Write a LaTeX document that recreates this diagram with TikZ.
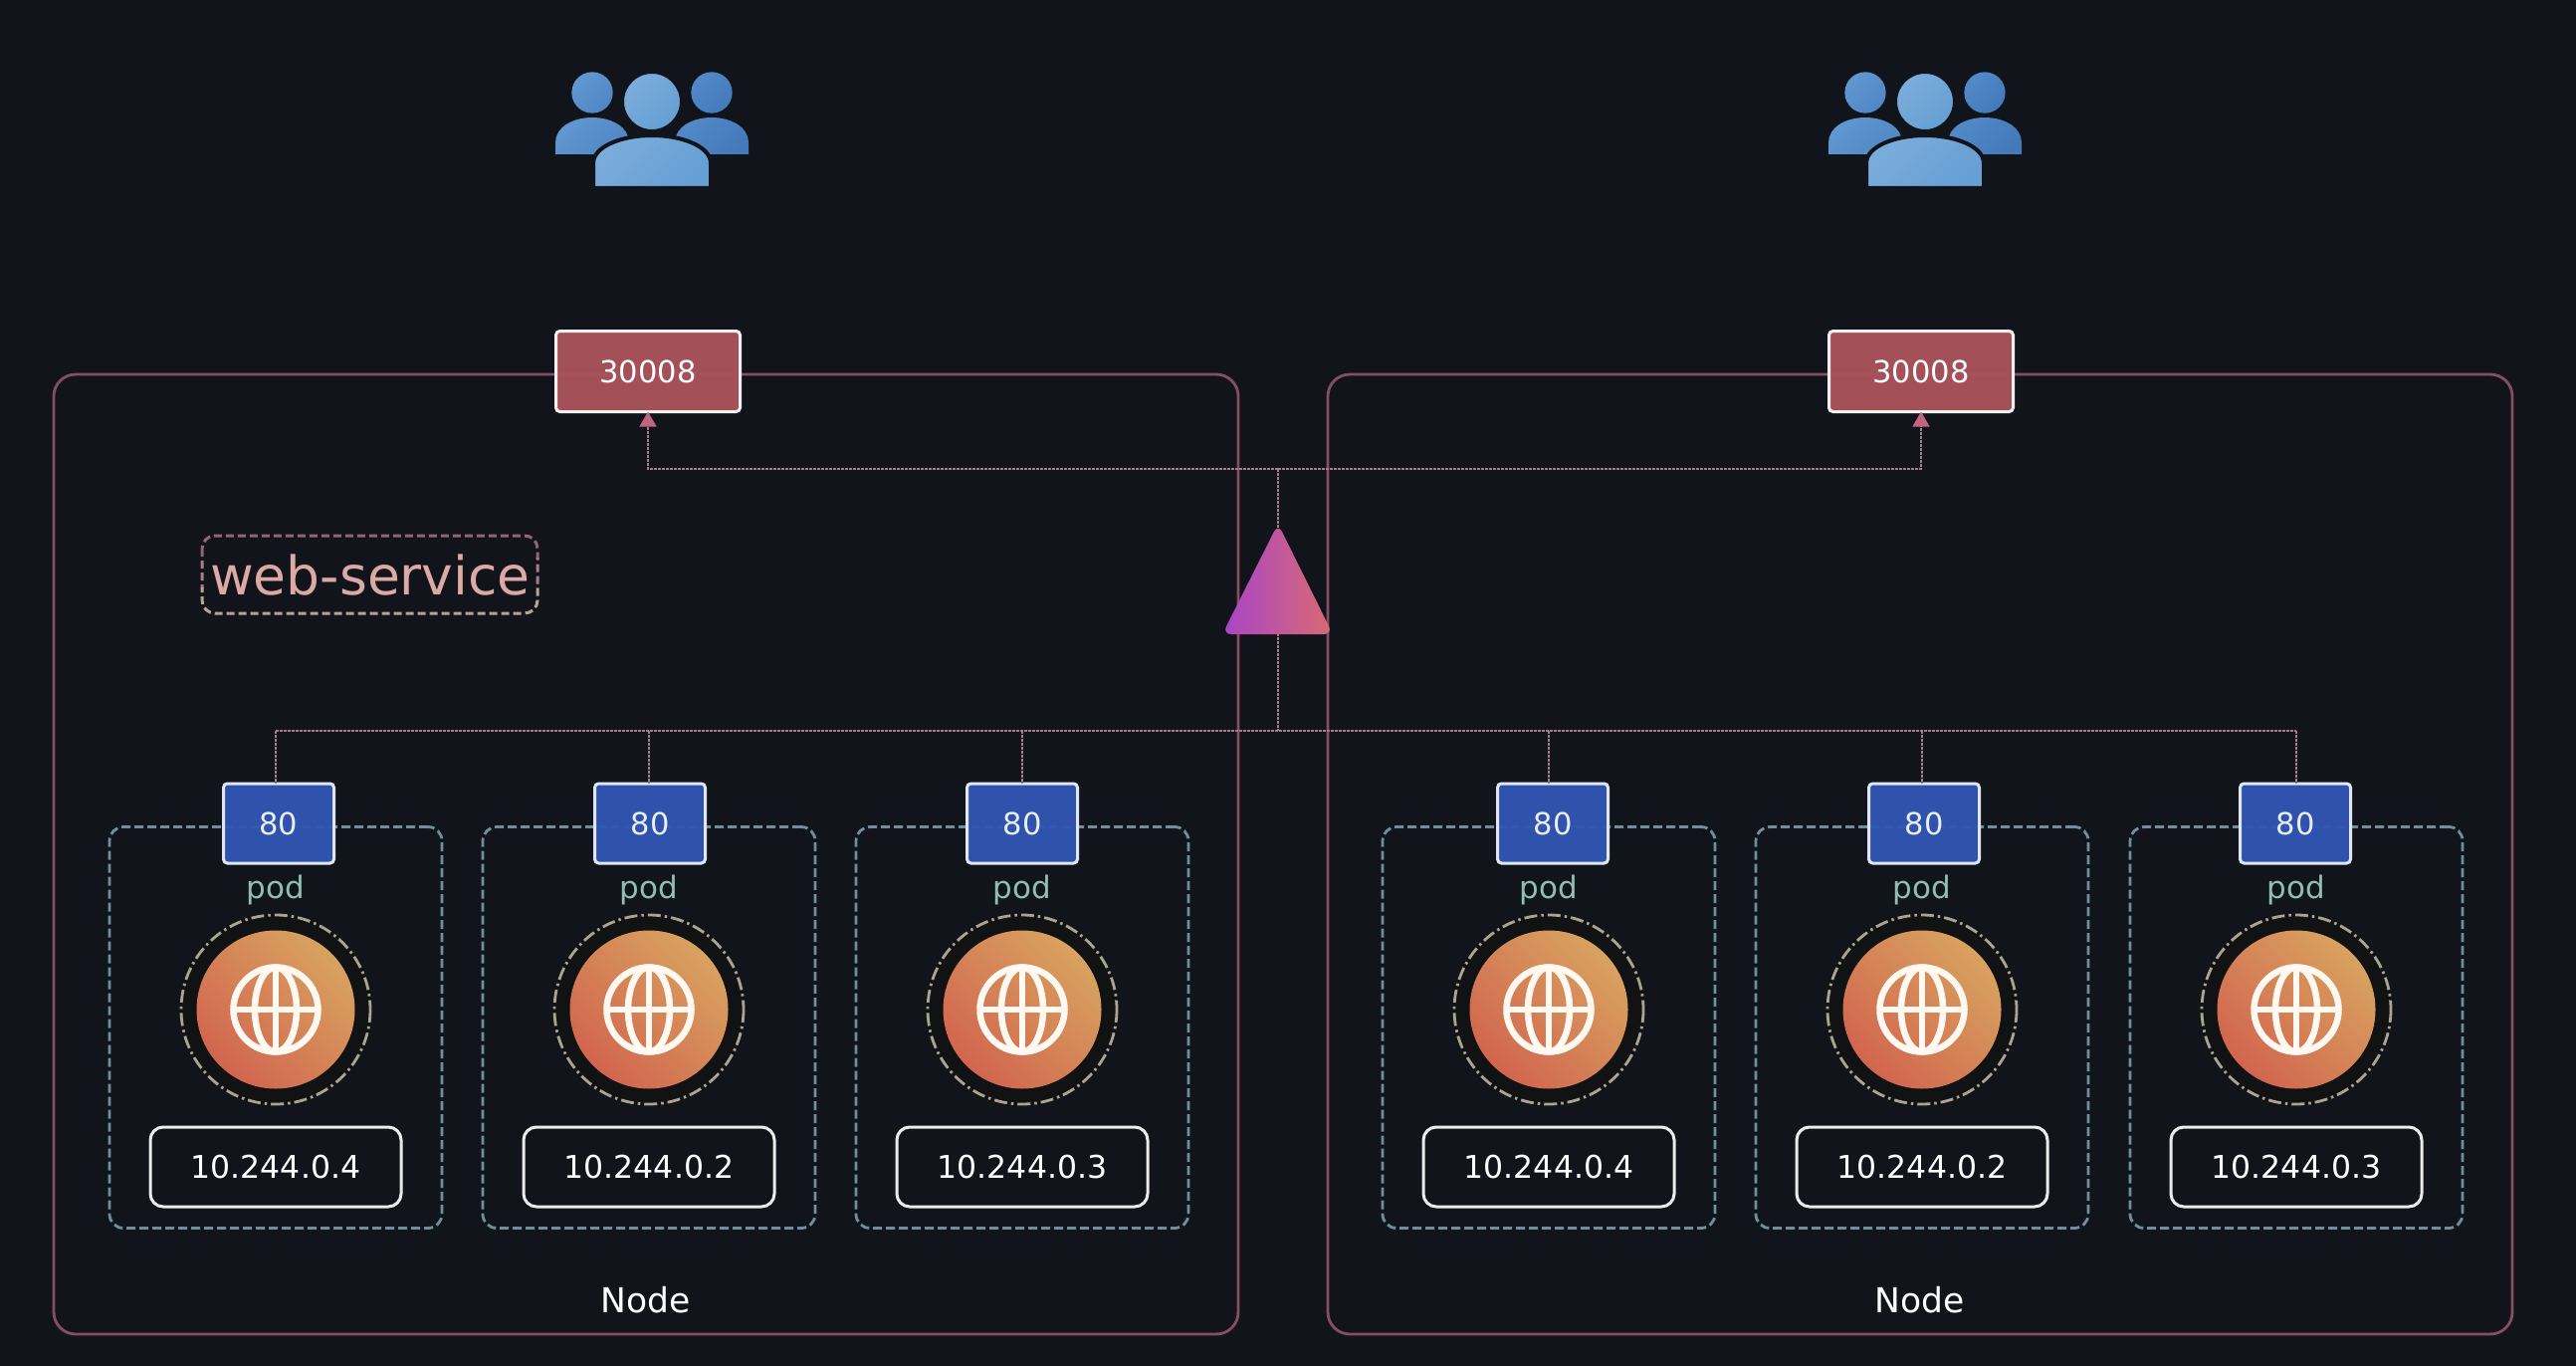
\documentclass[tikz,border=0pt]{standalone}
\usepackage{fontspec}
\setmainfont{DejaVu Sans}
\usetikzlibrary{arrows.meta,calc}
\definecolor{bgc}{HTML}{11151B}
\definecolor{nodeb}{HTML}{854E62}
\definecolor{busc}{HTML}{A87C8C}
\definecolor{redp}{HTML}{A9535B}
\definecolor{bluep}{HTML}{3156B4}
\definecolor{podb}{HTML}{6F8F9C}
\definecolor{podt}{HTML}{8FBDB8}
\definecolor{ringc}{HTML}{ABA48E}
\definecolor{arrowc}{HTML}{C0647F}
\definecolor{ua}{HTML}{6298D0}
\definecolor{ub}{HTML}{4F86C4}
\definecolor{uc}{HTML}{5289C8}
\definecolor{ud}{HTML}{437AB9}
\definecolor{ue}{HTML}{7BADDB}
\definecolor{uf}{HTML}{659FD4}
\definecolor{tril}{HTML}{A845C8}
\definecolor{trir}{HTML}{D96A72}
\definecolor{svca}{HTML}{96627A}
\definecolor{svcb}{HTML}{A67F85}
\definecolor{svcc}{HTML}{B9A394}
\definecolor{svct}{HTML}{DCA9A4}
\definecolor{orga}{HTML}{D2654F}
\definecolor{orgb}{HTML}{D8A25F}
\definecolor{halo}{HTML}{111213}
\tikzset{
  x=1pt,y=-1pt,
  fsize/.style={font=\fontsize{#1}{#1}\selectfont},
  nodebox/.style={draw=nodeb,line width=2.8pt,rounded corners=22pt,inner sep=0,outer sep=0,anchor=north west},
  bus/.style={draw=busc,line width=1.5pt,dash pattern=on 3pt off 1pt},
  redport/.style={draw=white!92!redp,line width=3pt,fill=redp,fill opacity=.96,text opacity=1,text=white,rounded corners=4pt,
    minimum width=185pt,minimum height=81pt,inner sep=0,outer sep=0,fsize=30.5},
  blueport/.style={draw=white!85!bluep,line width=3pt,fill=bluep,fill opacity=.95,text opacity=1,text=white!90!bluep,rounded corners=4pt,
    minimum width=111pt,minimum height=80pt,inner sep=0,outer sep=0,fsize=30.5},
  podbox/.style={draw=podb,line width=2.8pt,dash pattern=on 9pt off 4pt,rounded corners=14pt,
    minimum width=334pt,minimum height=403pt,inner sep=0,outer sep=0},
  ipbox/.style={draw=white!92!black,line width=3pt,rounded corners=13pt,fill=bgc,text=white,
    minimum width=252pt,minimum height=80pt,inner sep=0,outer sep=0,fsize=31.5},
  podlabel/.style={text=podt,inner sep=0,fsize=31},
  nodelabel/.style={text=white,inner sep=0,fsize=34.5},
  globeline/.style={draw=white!95!orange,line width=6.5pt}
}
\newcommand{\usersicon}[1]{%
  \begin{scope}[xshift=#1pt]
    \fill[left color=ua,right color=ub,shading angle=45] (595,93) circle (20.7);
    \fill[left color=ua,right color=ub,shading angle=45] (558,155) -- (558,143) .. controls (558,128) and (575,118) .. (595,118) .. controls (615,118) and (632,128) .. (632,143) -- (632,155) -- cycle;
    \fill[left color=uc,right color=ud,shading angle=45] (715,93) circle (20.7);
    \fill[left color=uc,right color=ud,shading angle=45] (678,155) -- (678,143) .. controls (678,128) and (695,118) .. (715,118) .. controls (735,118) and (752,128) .. (752,143) -- (752,155) -- cycle;
    \path[left color=ue,right color=uf,shading angle=45,draw=bgc,line width=4pt] (655,102) circle (30);
    \path[left color=ue,right color=uf,shading angle=45,draw=bgc,line width=4pt] (596,189) -- (596,164) .. controls (596,147) and (625,136) .. (655,136) .. controls (685,136) and (714,147) .. (714,164) -- (714,189) -- cycle;
  \end{scope}}
\begin{document}
\begin{tikzpicture}
\fill[bgc] (0,0) rectangle (2588,1372);
\useasboundingbox (0,0) rectangle (2588,1372);
% Kubernetes nodes
\node[nodebox,minimum width=1190pt,minimum height=964pt] (nodeA) at (54,376) {};
\node[nodebox,minimum width=1190pt,minimum height=964pt] (nodeB) at (1334,376) {};
% users
\usersicon{0}
\usersicon{1279}
% node ports
\node[redport] (portA) at (651,373) {30008};
\node[redport] (portB) at (1930,373) {30008};
% load balancer triangle
\coordinate (tritop) at (1284,531);
\coordinate (tribot) at (1284,636);
\coordinate (bustop) at (1284,471);
\coordinate (busbot) at (1284,734);
\coordinate (topA) at (651,471);
\coordinate (topB) at (1930,471);
\draw[bus,-{Triangle[length=15pt,width=17pt,color=arrowc]}] (bustop) -- (topA) -- (portA.south);
\draw[bus,-{Triangle[length=15pt,width=17pt,color=arrowc]}] (bustop) -- (topB) -- (portB.south);
\draw[bus] (bustop) -- (tritop);
\draw[bus] (tribot) -- (busbot);
\path[left color=tril,right color=trir,rounded corners=9pt]
  (1284,526) -- (1339,637) -- (1228,637) -- cycle;
\coordinate (busL) at (277,734);
\coordinate (busR) at (2307,734);
\draw[bus] (busL) -- (busR);
% web-service label
\foreach \ya/\yb/\c in {530/560/svca,560/590/svcb,590/625/svcc}{
  \begin{scope}
    \clip (190,\ya) rectangle (550,\yb);
    \draw[draw=\c,line width=3pt,dash pattern=on 8pt off 4pt,rounded corners=13pt] (203,538) rectangle (540,616);
  \end{scope}}
\node[text=svct,inner sep=0,fsize=53.5] (svc) at (372,578) {web-service};
% pods
\foreach \n/\cx/\px/\ip in {1/277/280/10.244.0.4,2/652/653/10.244.0.2,3/1027/1027/10.244.0.3,4/1556/1560/10.244.0.4,5/1931/1933/10.244.0.2,6/2307/2306/10.244.0.3}{
  \node[podbox] (pod\n) at (\cx,1032) {};
  \node[podlabel] (podl\n) at (\cx,893.5) {pod};
  \fill[halo] (\cx,1014) circle (97);
  \draw[ringc,line width=2.8pt,dash pattern=on 13pt off 4pt on 2.5pt off 4pt] (\cx,1014) circle (95);
  \path[left color=orga,right color=orgb,shading angle=135] (\cx,1014) circle (79.5);
  \begin{scope}[shift={(\cx,1014)}]
    \draw[globeline] (0,0) circle (42.5);
    \draw[globeline] (0,0) ellipse (21 and 42.5);
    \draw[globeline] (-42.5,0) -- (42.5,0);
    \draw[globeline] (0,-42.5) -- (0,42.5);
  \end{scope}
  \node[ipbox] (ip\n) at (\cx,1172) {\raisebox{-1pt}{\ip}};
  \coordinate (bus\n) at (\cx,734);
  \node[blueport] (port\n) at (\px,827) {80};
  \draw[bus] (bus\n) -- (bus\n |- port\n.north);
}
% node labels
\node[nodelabel] (labA) at (649,1306) {Node};
\node[nodelabel] (labB) at (1928.5,1306) {Node};
\end{tikzpicture}
\end{document}
